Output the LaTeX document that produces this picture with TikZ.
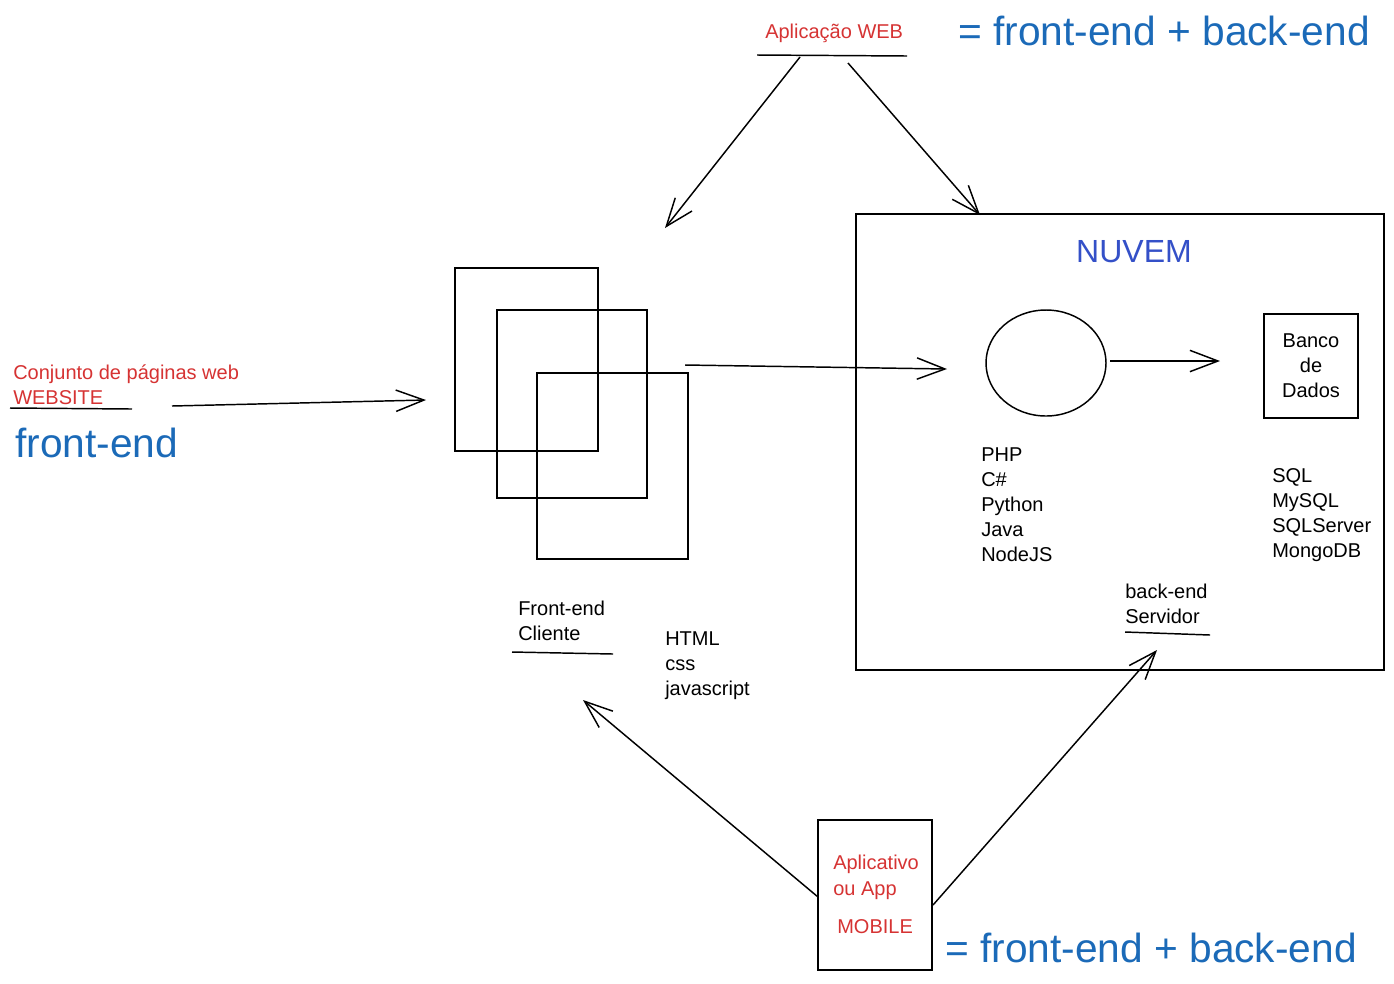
\documentclass[tikz,border=0pt]{standalone}
\usepackage{fontspec}
\setmainfont{Liberation Sans}
\usetikzlibrary{arrows.meta,shapes.geometric}
\definecolor{cred}{HTML}{D63333}
\definecolor{cblue}{HTML}{1B6AB8}
\definecolor{cnuv}{HTML}{3450C8}
\tikzset{
  pen/.style={line width=1.1pt, draw=black},
  box/.style={pen, rectangle, inner sep=0pt},
  arr/.style={pen, -{Straight Barb[length=21pt,width=16pt]}},
  small/.style={font=\fontsize{15}{18.75}\selectfont, inner sep=0pt, align=left, anchor=west},
  big/.style={font=\fontsize{30.5}{36}\selectfont, text=cblue, inner sep=0pt, anchor=west},
}
\begin{document}
\begin{tikzpicture}[x=0.75pt,y=-0.75pt]
\useasboundingbox[fill=white] (0,0) rectangle (1394,983);

% stacked pages
\node[box, minimum width=107.25pt, minimum height=137.25pt] (p1) at (526.5,359.5) {};
\node[box, minimum width=112.5pt, minimum height=141pt] (p2) at (572,404) {};
\node[box, minimum width=113.25pt, minimum height=139.5pt] (p3) at (612.5,466) {};

% cloud box
\node[box, minimum width=396pt, minimum height=342pt] (nuv) at (1120,442) {};
\node[font=\fontsize{24}{28}\selectfont, text=cnuv, inner sep=0pt] (nuvt) at (1134,252) {NUVEM};
\node[pen, ellipse, minimum width=90pt, minimum height=79.5pt, inner sep=0pt] (srv) at (1046,363) {};
\node[box, minimum width=70.5pt, minimum height=78pt] (db) at (1311,366) {};
\node[small, anchor=center, align=center] (dbt) at (1311,366) {Banco\\de\\Dados};
\node[small] (langs) at (981,504.5) {PHP\\C\#\\Python\\Java\\NodeJS};
\node[small] (dbs) at (1272,515) {SQL\\MySQL\\SQLServer\\MongoDB};
\node[small] (be) at (1125,604) {back-end\\Servidor};

% front-end labels
\node[small] (fe) at (518,621) {Front-end\\Cliente};
\node[small] (tech) at (665,665.5) {HTML\\css\\javascript};

% top
\node[small, text=cred] (web) at (765,33) {Aplicação WEB};
\node[big] (eq1) at (958,31) {= front-end + back-end};

% left
\node[small, text=cred] (site) at (13,385) {Conjunto de páginas web\\WEBSITE};
\node[big] (fe2) at (15,443) {front-end};

% mobile
\node[box, minimum width=85.5pt, minimum height=112.5pt] (mob) at (875,895) {};
\node[small, text=cred, font=\fontsize{15}{19.5}\selectfont] (mobt) at (833,877) {Aplicativo\\ou App};
\node[small, text=cred] (mobm) at (837,927) {MOBILE};
\node[big] (eq2) at (945,948) {= front-end + back-end};

% underlines
\coordinate (u1a) at (757,55); \coordinate (u1b) at (907,56);
\coordinate (u2a) at (10,408); \coordinate (u2b) at (132,409);
\coordinate (u3a) at (512,652); \coordinate (u3b) at (613,654);
\coordinate (u4a) at (1125,632); \coordinate (u4b) at (1210,635);
\draw[pen] (u1a) -- (u1b);
\draw[pen] (u2a) -- (u2b);
\draw[pen] (u3a) -- (u3b);
\draw[pen] (u4a) -- (u4b);

% arrows
\coordinate (a1s) at (800,57);  \coordinate (a1e) at (665,228);
\coordinate (a2s) at (848,63);  \coordinate (a2e) at (980,215);
\coordinate (a3s) at (172,406); \coordinate (a3e) at (426,400);
\coordinate (a4s) at (685,365); \coordinate (a4e) at (947,369);
\coordinate (a5s) at (1110,361); \coordinate (a5e) at (1220,361);
\coordinate (a6s) at (818,897); \coordinate (a6e) at (583,700);
\coordinate (a7s) at (933,905); \coordinate (a7e) at (1157,650);
\draw[arr] (a1s) -- (a1e);
\draw[arr] (a2s) -- (a2e);
\draw[arr] (a3s) -- (a3e);
\draw[arr] (a4s) -- (a4e);
\draw[arr] (a5s) -- (a5e);
\draw[arr] (a6s) -- (a6e);
\draw[arr] (a7s) -- (a7e);
\end{tikzpicture}
\end{document}
